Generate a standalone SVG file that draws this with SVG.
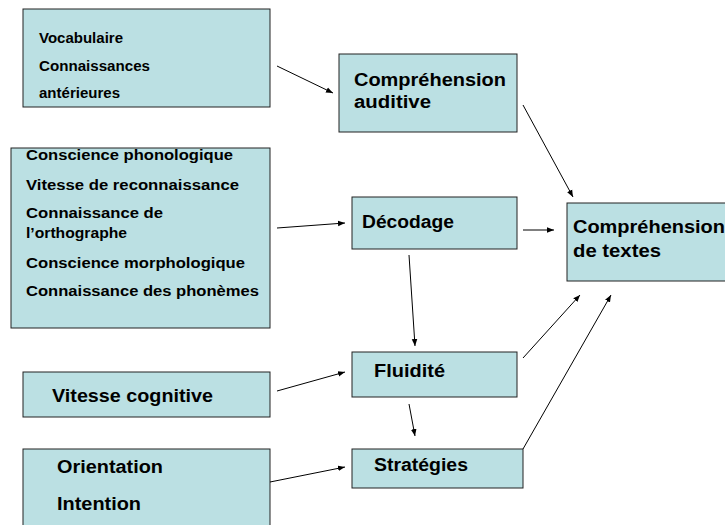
<svg xmlns="http://www.w3.org/2000/svg" width="725" height="525" viewBox="0 0 725 525">
<defs>
<marker id="ah" viewBox="0 0 10 10" refX="10" refY="5" markerWidth="7" markerHeight="7" orient="auto" markerUnits="userSpaceOnUse">
<path d="M0,1 L10,5 L0,9 z" fill="#000"/>
</marker>
<style>
.box{fill:#BBE0E3;stroke:#222;stroke-width:1}
.s{font-family:"Liberation Sans",Arial,sans-serif;font-weight:bold;font-size:14.5px;fill:#000}
.l{font-family:"Liberation Sans",Arial,sans-serif;font-weight:bold;font-size:18px;fill:#000}
.c{stroke:#000;stroke-width:1;fill:none;marker-end:url(#ah)}
</style>
</defs>
<rect width="725" height="525" fill="#fff"/>
<g id="n-vocab">
<rect class="box" x="23" y="9" width="247" height="98"/>
<text class="s" x="39" y="43" textLength="84" lengthAdjust="spacingAndGlyphs">Vocabulaire</text>
<text class="s" x="39" y="70.5" textLength="111" lengthAdjust="spacingAndGlyphs">Connaissances</text>
<text class="s" x="39" y="97.5" textLength="81" lengthAdjust="spacingAndGlyphs">antérieures</text>
</g>
<g id="n-auditive">
<rect class="box" x="339" y="54" width="178" height="78"/>
<text class="l" x="354" y="85.5" textLength="152" lengthAdjust="spacingAndGlyphs">Compréhension</text>
<text class="l" x="354" y="108" textLength="77" lengthAdjust="spacingAndGlyphs">auditive</text>
</g>
<g id="n-conscience">
<rect class="box" x="11" y="148" width="259" height="180"/>
<text class="s" x="26" y="160" textLength="207" lengthAdjust="spacingAndGlyphs">Conscience phonologique</text>
<text class="s" x="26" y="190" textLength="213" lengthAdjust="spacingAndGlyphs">Vitesse de reconnaissance</text>
<text class="s" x="26" y="218" textLength="137" lengthAdjust="spacingAndGlyphs">Connaissance de</text>
<text class="s" x="26" y="238" textLength="101" lengthAdjust="spacingAndGlyphs">l’orthographe</text>
<text class="s" x="26" y="268" textLength="219" lengthAdjust="spacingAndGlyphs">Conscience morphologique</text>
<text class="s" x="26" y="296" textLength="233" lengthAdjust="spacingAndGlyphs">Connaissance des phonèmes</text>
</g>
<g id="n-decodage">
<rect class="box" x="352" y="197" width="165" height="52"/>
<text class="l" x="362" y="228" textLength="92" lengthAdjust="spacingAndGlyphs">Décodage</text>
</g>
<g id="n-textes">
<rect class="box" x="567" y="203" width="170" height="78"/>
<text class="l" x="573" y="233" textLength="152" lengthAdjust="spacingAndGlyphs">Compréhension</text>
<text class="l" x="573" y="257" textLength="88" lengthAdjust="spacingAndGlyphs">de textes</text>
</g>
<g id="n-vitesse">
<rect class="box" x="23" y="372" width="247" height="45"/>
<text class="l" x="52" y="401.5" textLength="161" lengthAdjust="spacingAndGlyphs">Vitesse cognitive</text>
</g>
<g id="n-fluidite">
<rect class="box" x="352" y="352" width="165" height="45"/>
<text class="l" x="374" y="376.5" textLength="71" lengthAdjust="spacingAndGlyphs">Fluidité</text>
</g>
<g id="n-orientation">
<rect class="box" x="23" y="449" width="247" height="90"/>
<text class="l" x="57" y="472.5" textLength="106" lengthAdjust="spacingAndGlyphs">Orientation</text>
<text class="l" x="57" y="510" textLength="84" lengthAdjust="spacingAndGlyphs">Intention</text>
</g>
<g id="n-strategies">
<rect class="box" x="352" y="449" width="171" height="39"/>
<text class="l" x="374" y="470.5" textLength="94" lengthAdjust="spacingAndGlyphs">Stratégies</text>
</g>
<g id="connectors">
<line class="c" x1="277" y1="66" x2="333" y2="93"/>
<line class="c" x1="523" y1="105" x2="573" y2="197"/>
<line class="c" x1="277" y1="228" x2="345" y2="223"/>
<line class="c" x1="523" y1="230" x2="554" y2="230"/>
<line class="c" x1="409" y1="255" x2="415" y2="346"/>
<line class="c" x1="523" y1="358" x2="580" y2="295"/>
<line class="c" x1="523" y1="449" x2="611" y2="295"/>
<line class="c" x1="409" y1="404" x2="415" y2="436"/>
<line class="c" x1="277" y1="391" x2="345" y2="372"/>
<line class="c" x1="270" y1="482" x2="345" y2="467"/>
</g>
</svg>
